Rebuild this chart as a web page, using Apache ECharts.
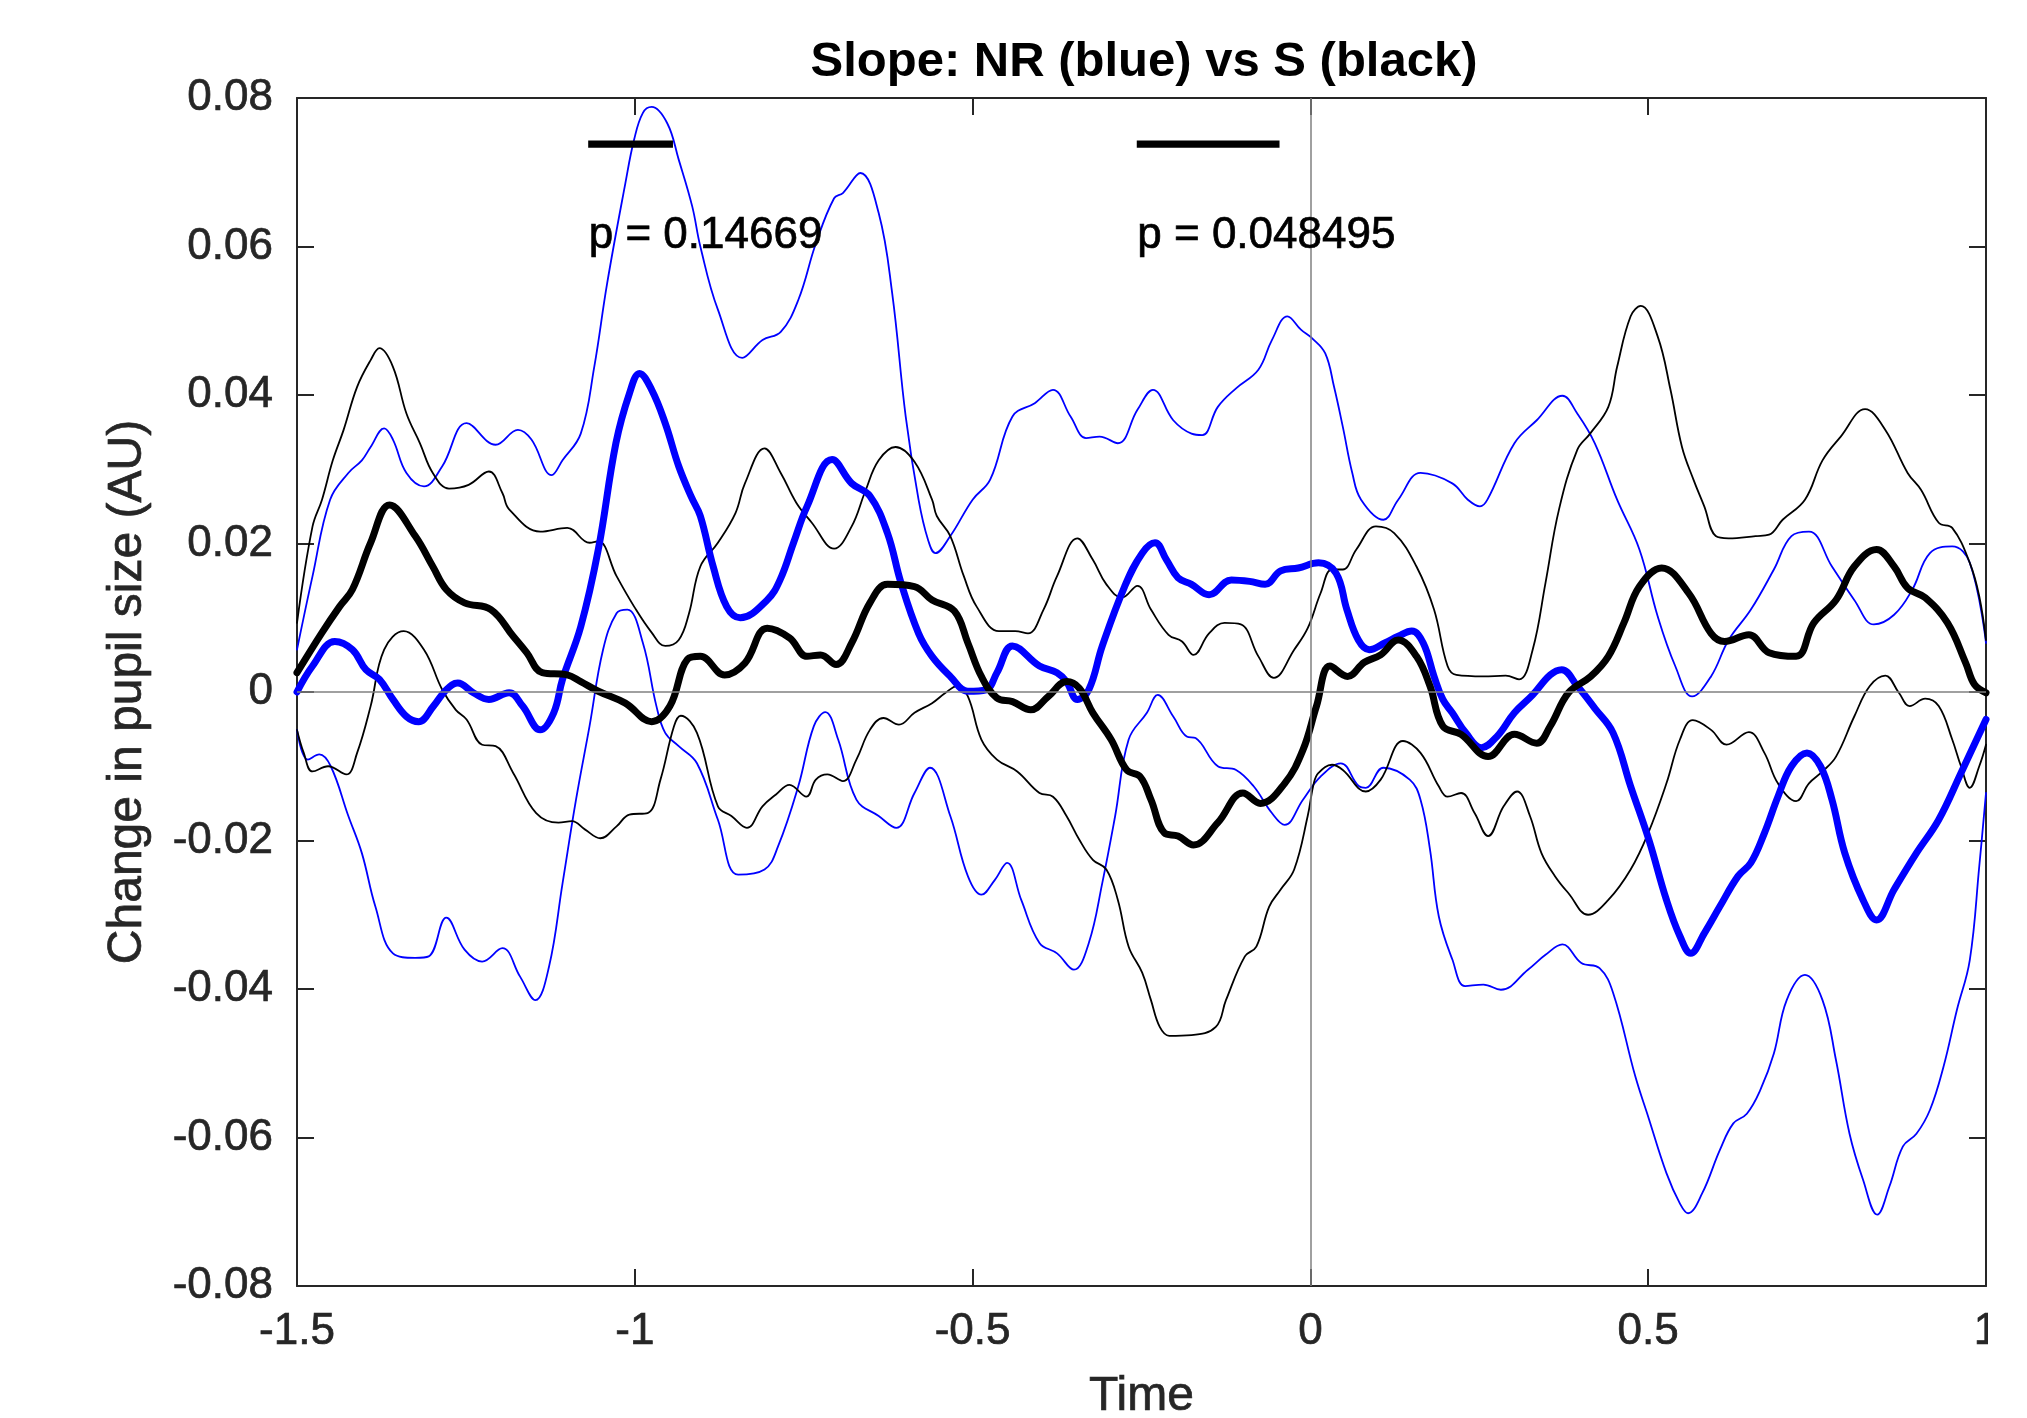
<!DOCTYPE html>
<html>
<head>
<meta charset="utf-8">
<script src="https://cdn.jsdelivr.net/npm/echarts@6.0.0/dist/echarts.min.js"></script>
<style>html,body{margin:0;padding:0;background:#fff}#c{width:2027px;height:1418px}</style>
</head>
<body>
<div id="c"></div>
<script>
// ---- Data ----
const xTicks = { min: -1.5, max: 1, interval: 0.5 };
const yTicks = { min: -0.08, max: 0.08, interval: 0.02 };

// NR mean (thick blue)
const nrMean = [[-1.500,0.0000],[-1.477,0.0035],[-1.444,0.0068],[-1.418,0.0057],[-1.398,0.0030],[-1.378,0.0017],[-1.358,-0.0010],[-1.338,-0.0033],[-1.320,-0.0040],[-1.298,-0.0019],[-1.279,0.0003],[-1.262,0.0012],[-1.239,-0.0001],[-1.216,-0.0010],[-1.186,-0.0001],[-1.166,-0.0019],[-1.140,-0.0051],[-1.120,-0.0028],[-1.107,0.0017],[-1.080,0.0088],[-1.054,0.0192],[-1.028,0.0335],[-1.008,0.0402],[-0.993,0.0429],[-0.975,0.0407],[-0.955,0.0362],[-0.935,0.0304],[-0.916,0.0262],[-0.903,0.0237],[-0.884,0.0169],[-0.864,0.0115],[-0.844,0.0100],[-0.804,0.0124],[-0.785,0.0151],[-0.765,0.0201],[-0.745,0.0250],[-0.708,0.0313],[-0.679,0.0281],[-0.652,0.0264],[-0.626,0.0214],[-0.606,0.0147],[-0.580,0.0079],[-0.560,0.0048],[-0.533,0.0021],[-0.507,0.0001],[-0.480,0.0003],[-0.464,0.0026],[-0.441,0.0062],[-0.401,0.0035],[-0.375,0.0026],[-0.361,0.0014],[-0.345,-0.0010],[-0.328,0.0003],[-0.308,0.0062],[-0.275,0.0142],[-0.249,0.0187],[-0.230,0.0201],[-0.213,0.0178],[-0.196,0.0154],[-0.176,0.0145],[-0.150,0.0131],[-0.117,0.0151],[-0.090,0.0149],[-0.067,0.0145],[-0.044,0.0163],[-0.018,0.0167],[0.012,0.0174],[0.038,0.0160],[0.054,0.0111],[0.071,0.0070],[0.087,0.0057],[0.110,0.0066],[0.130,0.0075],[0.150,0.0082],[0.167,0.0066],[0.183,0.0021],[0.196,-0.0010],[0.210,-0.0028],[0.230,-0.0055],[0.253,-0.0075],[0.276,-0.0060],[0.302,-0.0028],[0.329,-0.0004],[0.355,0.0023],[0.372,0.0030],[0.395,0.0008],[0.421,-0.0022],[0.448,-0.0055],[0.474,-0.0127],[0.501,-0.0199],[0.527,-0.0280],[0.547,-0.0329],[0.563,-0.0352],[0.583,-0.0325],[0.606,-0.0289],[0.633,-0.0248],[0.652,-0.0230],[0.672,-0.0190],[0.692,-0.0141],[0.712,-0.0100],[0.735,-0.0082],[0.755,-0.0100],[0.772,-0.0145],[0.791,-0.0217],[0.818,-0.0280],[0.838,-0.0307],[0.864,-0.0266],[0.897,-0.0217],[0.930,-0.0172],[0.963,-0.0109],[1.000,-0.0037]];

// NR upper bound (thin blue)
const nrUpper = [[-1.500,0.0057],[-1.477,0.0156],[-1.451,0.0259],[-1.424,0.0295],[-1.404,0.0312],[-1.391,0.0330],[-1.371,0.0355],[-1.358,0.0340],[-1.338,0.0295],[-1.312,0.0277],[-1.285,0.0304],[-1.249,0.0362],[-1.206,0.0333],[-1.173,0.0353],[-1.153,0.0340],[-1.123,0.0292],[-1.107,0.0312],[-1.080,0.0348],[-1.060,0.0438],[-1.041,0.0550],[-1.014,0.0685],[-1.001,0.0744],[-0.988,0.0780],[-0.975,0.0788],[-0.952,0.0766],[-0.935,0.0717],[-0.915,0.0654],[-0.903,0.0600],[-0.877,0.0515],[-0.841,0.0450],[-0.811,0.0474],[-0.784,0.0485],[-0.758,0.0528],[-0.732,0.0604],[-0.705,0.0665],[-0.692,0.0672],[-0.666,0.0699],[-0.639,0.0645],[-0.619,0.0537],[-0.599,0.0371],[-0.580,0.0259],[-0.566,0.0205],[-0.555,0.0187],[-0.533,0.0210],[-0.500,0.0259],[-0.474,0.0286],[-0.441,0.0371],[-0.408,0.0389],[-0.381,0.0407],[-0.355,0.0371],[-0.332,0.0342],[-0.312,0.0344],[-0.285,0.0335],[-0.256,0.0380],[-0.233,0.0407],[-0.203,0.0366],[-0.176,0.0348],[-0.160,0.0346],[-0.137,0.0384],[-0.110,0.0409],[-0.077,0.0434],[-0.057,0.0474],[-0.034,0.0506],[-0.014,0.0488],[0.003,0.0476],[0.022,0.0456],[0.035,0.0411],[0.048,0.0357],[0.062,0.0295],[0.075,0.0259],[0.108,0.0232],[0.130,0.0259],[0.163,0.0295],[0.210,0.0281],[0.233,0.0259],[0.251,0.0250],[0.262,0.0259],[0.302,0.0335],[0.335,0.0366],[0.373,0.0399],[0.395,0.0375],[0.421,0.0335],[0.454,0.0259],[0.487,0.0192],[0.514,0.0102],[0.540,0.0035],[0.565,-0.0006],[0.593,0.0021],[0.619,0.0070],[0.652,0.0111],[0.686,0.0165],[0.712,0.0210],[0.738,0.0216],[0.772,0.0169],[0.805,0.0124],[0.834,0.0091],[0.864,0.0104],[0.891,0.0138],[0.917,0.0187],[0.950,0.0196],[0.976,0.0174],[1.000,0.0066]];

// NR lower bound (thin blue)
const nrLower = [[-1.500,-0.0051],[-1.484,-0.0091],[-1.467,-0.0084],[-1.450,-0.0100],[-1.424,-0.0167],[-1.404,-0.0217],[-1.384,-0.0289],[-1.358,-0.0352],[-1.325,-0.0358],[-1.305,-0.0356],[-1.279,-0.0304],[-1.252,-0.0347],[-1.226,-0.0363],[-1.196,-0.0345],[-1.170,-0.0383],[-1.147,-0.0415],[-1.127,-0.0370],[-1.107,-0.0258],[-1.087,-0.0145],[-1.067,-0.0046],[-1.047,0.0057],[-1.027,0.0106],[-1.011,0.0111],[-0.988,0.0066],[-0.968,-0.0019],[-0.955,-0.0055],[-0.935,-0.0073],[-0.908,-0.0096],[-0.877,-0.0172],[-0.847,-0.0246],[-0.808,-0.0239],[-0.788,-0.0208],[-0.758,-0.0127],[-0.735,-0.0046],[-0.718,-0.0027],[-0.699,-0.0064],[-0.672,-0.0145],[-0.639,-0.0167],[-0.613,-0.0183],[-0.586,-0.0136],[-0.563,-0.0102],[-0.533,-0.0167],[-0.507,-0.0248],[-0.487,-0.0273],[-0.467,-0.0253],[-0.449,-0.0230],[-0.428,-0.0280],[-0.401,-0.0338],[-0.375,-0.0352],[-0.350,-0.0374],[-0.328,-0.0338],[-0.308,-0.0257],[-0.289,-0.0167],[-0.269,-0.0064],[-0.242,-0.0028],[-0.226,-0.0004],[-0.203,-0.0033],[-0.183,-0.0060],[-0.170,-0.0062],[-0.137,-0.0100],[-0.110,-0.0105],[-0.084,-0.0127],[-0.057,-0.0163],[-0.038,-0.0179],[-0.011,-0.0145],[0.015,-0.0114],[0.045,-0.0096],[0.072,-0.0127],[0.082,-0.0129],[0.108,-0.0102],[0.147,-0.0118],[0.163,-0.0145],[0.177,-0.0212],[0.190,-0.0302],[0.210,-0.0360],[0.229,-0.0396],[0.256,-0.0394],[0.282,-0.0401],[0.322,-0.0374],[0.348,-0.0354],[0.373,-0.0340],[0.401,-0.0365],[0.428,-0.0372],[0.448,-0.0405],[0.481,-0.0518],[0.500,-0.0572],[0.527,-0.0648],[0.547,-0.0689],[0.559,-0.0702],[0.580,-0.0675],[0.606,-0.0617],[0.626,-0.0581],[0.646,-0.0568],[0.666,-0.0536],[0.686,-0.0487],[0.705,-0.0415],[0.732,-0.0381],[0.758,-0.0415],[0.778,-0.0496],[0.798,-0.0595],[0.818,-0.0657],[0.839,-0.0704],[0.857,-0.0666],[0.877,-0.0612],[0.897,-0.0595],[0.917,-0.0563],[0.937,-0.0505],[0.957,-0.0428],[0.976,-0.0361],[0.990,-0.0235],[1.000,-0.0136]];

// S mean (thick black)
const sMean = [[-1.500,0.0026],[-1.463,0.0080],[-1.437,0.0115],[-1.418,0.0138],[-1.391,0.0201],[-1.363,0.0252],[-1.325,0.0210],[-1.299,0.0169],[-1.279,0.0138],[-1.252,0.0120],[-1.213,0.0111],[-1.180,0.0075],[-1.160,0.0053],[-1.137,0.0026],[-1.100,0.0023],[-1.080,0.0014],[-1.054,0.0001],[-1.014,-0.0015],[-0.975,-0.0040],[-0.948,-0.0019],[-0.922,0.0044],[-0.903,0.0048],[-0.867,0.0023],[-0.837,0.0039],[-0.804,0.0086],[-0.771,0.0073],[-0.745,0.0048],[-0.725,0.0050],[-0.702,0.0037],[-0.679,0.0066],[-0.652,0.0120],[-0.626,0.0145],[-0.586,0.0142],[-0.560,0.0124],[-0.527,0.0109],[-0.507,0.0066],[-0.487,0.0021],[-0.464,-0.0008],[-0.441,-0.0013],[-0.414,-0.0024],[-0.388,-0.0006],[-0.361,0.0014],[-0.342,0.0005],[-0.322,-0.0028],[-0.295,-0.0064],[-0.272,-0.0105],[-0.252,-0.0114],[-0.236,-0.0145],[-0.216,-0.0190],[-0.196,-0.0194],[-0.173,-0.0206],[-0.137,-0.0176],[-0.100,-0.0136],[-0.074,-0.0150],[-0.038,-0.0123],[-0.011,-0.0078],[0.009,-0.0019],[0.029,0.0035],[0.055,0.0021],[0.080,0.0040],[0.104,0.0050],[0.130,0.0070],[0.157,0.0048],[0.177,0.0008],[0.196,-0.0046],[0.223,-0.0057],[0.263,-0.0087],[0.302,-0.0057],[0.335,-0.0069],[0.355,-0.0046],[0.382,-0.0001],[0.415,0.0021],[0.441,0.0048],[0.464,0.0093],[0.487,0.0142],[0.520,0.0167],[0.560,0.0133],[0.593,0.0079],[0.613,0.0068],[0.649,0.0077],[0.679,0.0053],[0.719,0.0048],[0.745,0.0093],[0.778,0.0124],[0.805,0.0169],[0.838,0.0192],[0.864,0.0169],[0.884,0.0140],[0.910,0.0127],[0.943,0.0093],[0.970,0.0039],[0.983,0.0010],[1.000,-0.0001]];

// S upper bound (thin black)
const sUpper = [[-1.500,0.0093],[-1.477,0.0223],[-1.463,0.0259],[-1.447,0.0312],[-1.431,0.0353],[-1.411,0.0411],[-1.391,0.0447],[-1.378,0.0463],[-1.358,0.0438],[-1.338,0.0375],[-1.318,0.0335],[-1.299,0.0295],[-1.275,0.0274],[-1.246,0.0279],[-1.216,0.0297],[-1.196,0.0268],[-1.186,0.0246],[-1.140,0.0216],[-1.100,0.0221],[-1.067,0.0201],[-1.054,0.0203],[-1.027,0.0156],[-1.001,0.0115],[-0.975,0.0080],[-0.955,0.0062],[-0.935,0.0070],[-0.920,0.0105],[-0.903,0.0169],[-0.877,0.0201],[-0.851,0.0241],[-0.837,0.0281],[-0.808,0.0328],[-0.784,0.0295],[-0.761,0.0255],[-0.738,0.0228],[-0.705,0.0193],[-0.679,0.0223],[-0.659,0.0270],[-0.639,0.0312],[-0.614,0.0330],[-0.586,0.0310],[-0.560,0.0259],[-0.553,0.0237],[-0.533,0.0210],[-0.513,0.0156],[-0.494,0.0115],[-0.461,0.0082],[-0.437,0.0082],[-0.418,0.0079],[-0.395,0.0111],[-0.375,0.0156],[-0.345,0.0207],[-0.322,0.0178],[-0.302,0.0145],[-0.279,0.0127],[-0.256,0.0143],[-0.236,0.0111],[-0.210,0.0077],[-0.190,0.0068],[-0.173,0.0050],[-0.150,0.0079],[-0.127,0.0093],[-0.103,0.0091],[-0.077,0.0048],[-0.054,0.0019],[-0.024,0.0057],[-0.004,0.0086],[0.015,0.0133],[0.032,0.0165],[0.048,0.0165],[0.068,0.0192],[0.097,0.0223],[0.124,0.0214],[0.157,0.0169],[0.183,0.0111],[0.203,0.0035],[0.216,0.0023],[0.256,0.0021],[0.289,0.0022],[0.309,0.0017],[0.329,0.0057],[0.348,0.0147],[0.368,0.0246],[0.395,0.0326],[0.414,0.0348],[0.441,0.0384],[0.454,0.0438],[0.474,0.0506],[0.489,0.0520],[0.514,0.0479],[0.533,0.0407],[0.550,0.0330],[0.567,0.0286],[0.583,0.0250],[0.600,0.0210],[0.619,0.0207],[0.659,0.0210],[0.679,0.0212],[0.699,0.0232],[0.732,0.0259],[0.758,0.0312],[0.785,0.0344],[0.821,0.0381],[0.851,0.0353],[0.884,0.0295],[0.904,0.0272],[0.930,0.0228],[0.950,0.0221],[0.976,0.0174],[0.990,0.0129],[1.000,0.0070]];

// S lower bound (thin black)
const sLower = [[-1.500,-0.0051],[-1.490,-0.0082],[-1.477,-0.0107],[-1.454,-0.0100],[-1.427,-0.0111],[-1.411,-0.0082],[-1.391,-0.0019],[-1.371,0.0057],[-1.342,0.0082],[-1.312,0.0057],[-1.285,0.0003],[-1.265,-0.0024],[-1.249,-0.0037],[-1.226,-0.0071],[-1.206,-0.0073],[-1.180,-0.0109],[-1.146,-0.0163],[-1.113,-0.0176],[-1.093,-0.0174],[-1.074,-0.0185],[-1.051,-0.0197],[-1.027,-0.0181],[-1.008,-0.0165],[-0.981,-0.0163],[-0.962,-0.0118],[-0.942,-0.0046],[-0.932,-0.0032],[-0.908,-0.0055],[-0.877,-0.0154],[-0.857,-0.0167],[-0.834,-0.0183],[-0.811,-0.0154],[-0.791,-0.0138],[-0.771,-0.0125],[-0.746,-0.0141],[-0.732,-0.0118],[-0.715,-0.0111],[-0.692,-0.0120],[-0.672,-0.0091],[-0.652,-0.0051],[-0.632,-0.0035],[-0.609,-0.0044],[-0.586,-0.0028],[-0.560,-0.0015],[-0.540,-0.0001],[-0.523,0.0008],[-0.507,-0.0006],[-0.487,-0.0064],[-0.464,-0.0091],[-0.434,-0.0107],[-0.401,-0.0136],[-0.381,-0.0141],[-0.361,-0.0167],[-0.342,-0.0199],[-0.322,-0.0226],[-0.302,-0.0239],[-0.285,-0.0280],[-0.269,-0.0343],[-0.249,-0.0378],[-0.236,-0.0415],[-0.223,-0.0451],[-0.209,-0.0463],[-0.176,-0.0462],[-0.140,-0.0451],[-0.125,-0.0415],[-0.097,-0.0356],[-0.080,-0.0343],[-0.061,-0.0289],[-0.044,-0.0266],[-0.024,-0.0239],[-0.004,-0.0167],[0.005,-0.0123],[0.012,-0.0109],[0.032,-0.0098],[0.048,-0.0105],[0.082,-0.0134],[0.104,-0.0118],[0.137,-0.0066],[0.163,-0.0082],[0.190,-0.0127],[0.203,-0.0141],[0.223,-0.0136],[0.243,-0.0163],[0.263,-0.0194],[0.286,-0.0154],[0.306,-0.0134],[0.325,-0.0167],[0.342,-0.0217],[0.362,-0.0248],[0.382,-0.0271],[0.411,-0.0300],[0.441,-0.0280],[0.474,-0.0239],[0.500,-0.0190],[0.527,-0.0123],[0.547,-0.0064],[0.566,-0.0038],[0.593,-0.0051],[0.616,-0.0071],[0.649,-0.0054],[0.672,-0.0082],[0.692,-0.0123],[0.719,-0.0147],[0.738,-0.0123],[0.758,-0.0107],[0.778,-0.0087],[0.805,-0.0033],[0.828,0.0008],[0.851,0.0022],[0.871,-0.0001],[0.887,-0.0019],[0.910,-0.0009],[0.930,-0.0019],[0.950,-0.0064],[0.963,-0.0100],[0.976,-0.0129],[0.990,-0.0100],[1.000,-0.0071]];

// Significance windows (x start, x end), drawn at one height
const sigWindows = [[-1.069, -0.9435], [-0.257, -0.0457]];
const sigBarY = 0.0738;
const pTexts = ['p = 0.14669', 'p = 0.048495'];
const pTextY = 0.0615;

// ---- Chart ----
const FONT = '"Liberation Sans", Arial, Helvetica, sans-serif';
const AX = '#262626';
const chart = echarts.init(document.getElementById('c'), null, { renderer: 'canvas', width: 2027, height: 1418 });

function curve(name, data, color, width, z) {
  return {
    name, type: 'line', data, xAxisIndex: 0, yAxisIndex: 0,
    showSymbol: false, symbol: 'none', smooth: 0.4,
    lineStyle: { color, width, join: 'round', cap: 'round' },
    z, silent: true, animation: false, clip: true
  };
}

const axisLineStyle = { color: AX, width: 2 };
const tickStyle = { show: true, inside: true, length: 17, lineStyle: { color: AX, width: 2 } };
const heavy = (c) => ({ textBorderColor: c, textBorderWidth: 0.7 });

const series = [
  Object.assign(curve('NR upper', nrUpper, '#0000ff', 1.8, 2), {
    markLine: {
      silent: true, symbol: ['none', 'none'], label: { show: false }, animation: false,
      lineStyle: { color: '#808080', width: 1.5, type: 'solid' },
      data: [{ yAxis: 0 }, { xAxis: 0 }]
    }
  }),
  curve('NR lower', nrLower, '#0000ff', 1.8, 2),
  curve('S upper', sUpper, '#000000', 1.8, 2),
  curve('S lower', sLower, '#000000', 1.8, 2),
  curve('NR', nrMean, '#0000ff', 7, 3),
  curve('S', sMean, '#000000', 7, 4)
];

sigWindows.forEach((w, i) => {
  series.push({
    name: 'sig' + i, type: 'line', data: [[w[0], sigBarY], [w[1], sigBarY]],
    showSymbol: false, symbol: 'none', silent: true, animation: false,
    lineStyle: { color: '#000', width: 7.3, cap: 'butt' }, z: 5
  });
});

series.push({
  name: 'p-values', type: 'scatter', silent: true, animation: false,
  symbolSize: 1, itemStyle: { color: 'rgba(0,0,0,0)' }, z: 6,
  data: sigWindows.map((w, i) => ({ value: [w[0], pTextY], label: { formatter: pTexts[i] } })),
  label: Object.assign({ show: true, position: 'right', distance: 0, fontSize: 44, color: '#000000', opacity: 1, fontFamily: FONT }, heavy('#000000'))
});

chart.setOption({
  animation: false,
  backgroundColor: '#ffffff',
  textStyle: { fontFamily: FONT },
  title: {
    text: 'Slope: NR (blue) vs S (black)',
    left: 1144, top: 38, padding: 0,
    textAlign: 'center', textVerticalAlign: 'top',
    textStyle: { fontSize: 49, fontWeight: 'bold', color: '#000', fontFamily: FONT }
  },
  grid: { left: 297, right: 41, top: 98, bottom: 132, containLabel: false, outerBoundsMode: 'none' },
  xAxis: [
    {
      type: 'value', position: 'bottom', min: xTicks.min, max: xTicks.max, interval: xTicks.interval,
      axisLine: { show: true, onZero: false, lineStyle: axisLineStyle },
      axisTick: tickStyle,
      axisLabel: Object.assign({ show: true, fontSize: 44, color: AX, margin: 24, fontFamily: FONT }, heavy(AX)),
      splitLine: { show: false },
      name: 'Time', nameLocation: 'middle', nameGap: 87, nameMoveOverlap: false,
      nameTextStyle: Object.assign({ fontSize: 48, color: AX, fontFamily: FONT }, heavy(AX))
    },
    {
      type: 'value', position: 'top', min: xTicks.min, max: xTicks.max, interval: xTicks.interval,
      axisLine: { show: true, onZero: false, lineStyle: axisLineStyle },
      axisTick: tickStyle, axisLabel: { show: false }, splitLine: { show: false }
    }
  ],
  yAxis: [
    {
      type: 'value', position: 'left', min: yTicks.min, max: yTicks.max, interval: yTicks.interval,
      axisLine: { show: true, onZero: false, lineStyle: axisLineStyle },
      axisTick: tickStyle,
      axisLabel: Object.assign({ show: true, fontSize: 44, color: AX, margin: 24, fontFamily: FONT }, heavy(AX)),
      splitLine: { show: false },
      name: 'Change in pupil size (AU)', nameLocation: 'middle', nameGap: 145, nameRotate: 90,
      nameMoveOverlap: false,
      nameTextStyle: Object.assign({ fontSize: 48, color: AX, fontFamily: FONT }, heavy(AX))
    },
    {
      type: 'value', position: 'right', min: yTicks.min, max: yTicks.max, interval: yTicks.interval,
      axisLine: { show: true, onZero: false, lineStyle: axisLineStyle },
      axisTick: tickStyle, axisLabel: { show: false }, splitLine: { show: false }
    }
  ],
  graphic: [
    // the reference picture is cut just right of the plot frame (clips the "1" tick label)
    { type: 'rect', silent: true, z: 100, shape: { x: 1988, y: 1292, width: 40, height: 80 }, style: { fill: '#ffffff' } }
  ],
  series
});
</script>
</body>
</html>
